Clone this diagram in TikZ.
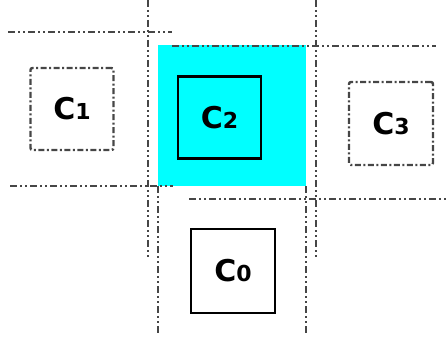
\documentclass[tikz,border=0pt]{standalone}
\usepackage{fontspec}
\setmainfont{DejaVu Sans}
\definecolor{cellcyan}{RGB}{0,255,255}
\definecolor{linegray}{RGB}{70,70,70}
\begin{document}
\begin{tikzpicture}[x=1pt,y=-1pt,
  gridline/.style={draw=linegray,line width=2.6pt,dash pattern=on 7pt off 3pt on 2pt off 3pt on 2pt off 3pt},
  cellbox/.style={draw=black,line width=2.6pt,minimum width=83pt,minimum height=82pt,inner sep=0pt},
  ghostbox/.style={draw=linegray,line width=2.4pt,rounded corners=2pt,dash pattern=on 6pt off 2.5pt on 2pt off 2.5pt,minimum width=83pt,minimum height=82pt,inner sep=0pt},
  lbl/.style={font=\fontsize{30}{30}\selectfont\bfseries}]
\useasboundingbox (0,0) rectangle (446,345);
% highlighted cell
\fill[cellcyan] (158,45) rectangle (306,186);
% grid lines
\coordinate (a1) at (148,0);   \coordinate (a2) at (148,258);
\coordinate (b1) at (316,0);   \coordinate (b2) at (316,258);
\coordinate (c1) at (158,186); \coordinate (c2) at (158,335);
\coordinate (d1) at (306,186); \coordinate (d2) at (306,335);
\coordinate (h1a) at (8,32);   \coordinate (h1b) at (172,32);
\coordinate (h2a) at (172,46); \coordinate (h2b) at (436,46);
\coordinate (h3a) at (10,186); \coordinate (h3b) at (173,186);
\coordinate (h4a) at (189,199); \coordinate (h4b) at (446,199);
\draw[gridline] (a1) -- (a2);
\draw[gridline] (b1) -- (b2);
\draw[gridline] (c1) -- (c2);
\draw[gridline] (d1) -- (d2);
\draw[gridline] (h1a) -- (h1b);
\draw[gridline] (h2a) -- (h2b);
\draw[gridline] (h3a) -- (h3b);
\draw[gridline] (h4a) -- (h4b);
% cells
\newcommand{\cl}[1]{C{\fontsize{22}{22}\selectfont #1}}
\node[ghostbox] (C1) at (72,109) {};
\node[cellbox] (C2) at (219.5,117.5) {};
\node[ghostbox,minimum width=84pt,minimum height=83pt] (C3) at (391,123.5) {};
\node[cellbox,minimum width=84pt,minimum height=84pt] (C0) at (233,271) {};
\node[lbl] (t1) at (C1.center) {\cl{1}};
\node[lbl] (t2) at (C2.center) {\cl{2}};
\node[lbl] (t3) at (C3.center) {\cl{3}};
\node[lbl] (t0) at (C0.center) {\cl{0}};
\end{tikzpicture}
\end{document}
